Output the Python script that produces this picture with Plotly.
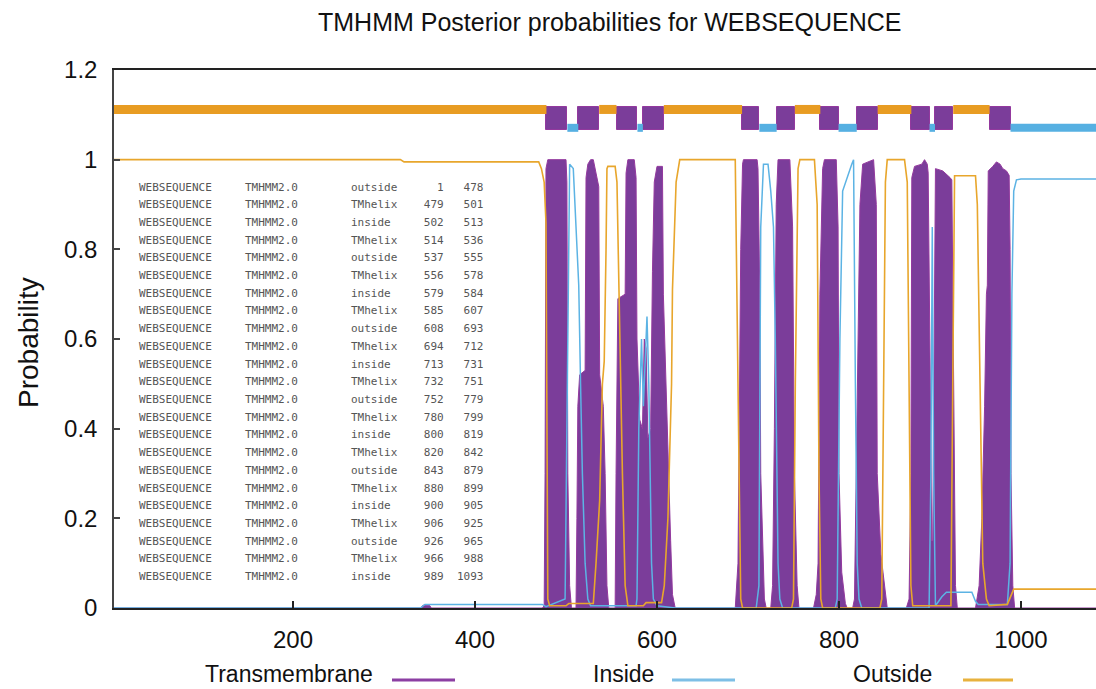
import plotly.graph_objects as go

# ---------------- data ----------------
seg_type = ["outside", "TMhelix", "inside", "TMhelix", "outside", "TMhelix", "inside", "TMhelix",
            "outside", "TMhelix", "inside", "TMhelix", "outside", "TMhelix", "inside", "TMhelix",
            "outside", "TMhelix", "inside", "TMhelix", "outside", "TMhelix", "inside"]
seg_start = [1, 479, 502, 514, 537, 556, 579, 585, 608, 694, 713, 732, 752, 780, 800, 820,
             843, 880, 900, 906, 926, 966, 989]
seg_end = [478, 501, 513, 536, 555, 578, 584, 607, 693, 712, 731, 751, 779, 799, 819, 842,
           879, 899, 905, 925, 965, 988, 1093]

# transmembrane posterior (vertices)
tm_pos = [1, 340, 343, 350, 352, 474, 476, 477, 478, 480, 500, 501, 502, 504, 506,
          511, 512, 513, 515, 521, 522, 524, 527, 530, 533, 536, 537, 541, 543, 545, 547,
          554, 555, 557, 565, 566, 568, 575, 577, 578, 581, 584, 586, 588, 590, 593, 595, 597,
          600, 606, 607, 609, 611, 613, 615, 617, 620,
          686, 689, 692, 694, 695, 710, 711, 713, 714, 716, 718, 720,
          725, 727, 729, 731, 733, 746, 749, 751, 754, 756,
          772, 775, 777, 779, 782, 784, 797, 799, 800, 803, 807, 809,
          815, 817, 820, 823, 826, 838, 841, 842, 846, 851, 853,
          874, 877, 879, 880, 883, 891, 894, 897, 898, 900, 902, 903, 905, 906, 914, 920, 922,
          924, 926, 928, 930,
          950, 954, 957, 960, 962, 963, 964, 969, 973, 977, 980, 984, 987, 988, 989, 991, 993, 1093]
tm_prob = [0, 0, 0.006, 0.006, 0, 0, 0.005, 0.3, 0.98, 1.0, 1.0, 0.95, 0.3, 0.05, 0,
           0, 0.2, 0.45, 0.52, 0.53, 0.96, 0.99, 1.0, 1.0, 0.97, 0.94, 0.52, 0.45, 0.3, 0.05, 0,
           0, 0.3, 0.69, 0.7, 0.97, 1.0, 1.0, 0.96, 0.6, 0.42, 0.4, 0.6, 0.58, 0.38, 0.4, 0.75, 0.95,
           0.985, 0.985, 0.7, 0.55, 0.4, 0.3, 0.15, 0.03, 0,
           0, 0.1, 0.8, 0.99, 1.0, 1.0, 0.98, 0.7, 0.3, 0.15, 0.02, 0,
           0, 0.05, 0.4, 0.9, 1.0, 1.0, 0.85, 0.3, 0.05, 0,
           0, 0.03, 0.1, 0.7, 0.98, 1.0, 1.0, 0.85, 0.3, 0.08, 0.01, 0,
           0, 0.02, 0.5, 0.9, 0.99, 1.0, 0.9, 0.3, 0.12, 0.03, 0,
           0, 0.02, 0.3, 0.96, 0.985, 0.99, 1.0, 0.99, 0.97, 0.6, 0.15, 0.15, 0.8, 0.98, 0.975, 0.965, 0.96,
           0.955, 0.4, 0.05, 0,
           0, 0.05, 0.2, 0.45, 0.7, 0.72, 0.975, 0.985, 0.995, 0.99, 0.98, 0.975, 0.965, 0.8, 0.3, 0.05, 0, 0]

# inside posterior
in_pos = [1, 340, 345, 474, 478, 499, 502, 504, 508, 511, 514, 516, 518, 521, 524, 527,
          577, 578, 580, 583, 585, 588, 589, 591, 592, 594, 596, 600, 620,
          709, 712, 714, 717, 722, 725, 728, 730, 733, 735, 738,
          796, 798, 801, 804, 814, 816, 818, 820, 822, 825,
          899, 901, 902.5, 904, 906, 913, 918, 946, 950, 953, 985, 988, 990, 992, 995, 1000, 1093]
in_prob = [0, 0, 0.008, 0.008, 0.003, 0.02, 0.6, 0.99, 0.98, 0.85, 0.72, 0.5, 0.3, 0.1, 0.02, 0.005,
           0.005, 0.02, 0.4, 0.6, 0.45, 0.6, 0.65, 0.5, 0.38, 0.1, 0.02, 0.005, 0,
           0, 0.05, 0.85, 0.99, 0.99, 0.93, 0.85, 0.6, 0.1, 0.02, 0,
           0, 0.02, 0.6, 0.93, 0.99, 1.0, 0.5, 0.1, 0.02, 0,
           0, 0.3, 0.85, 0.3, 0.005, 0.025, 0.035, 0.035, 0.015, 0.008, 0.008, 0.1, 0.7, 0.93, 0.955, 0.957, 0.957]

# outside posterior
out_pos = [1, 318, 322, 470, 473, 476, 478, 479, 480, 482, 500, 503, 530, 533, 537, 540, 542, 544,
           545, 546, 554, 556, 558, 560, 562, 565, 568, 585, 588, 605, 608, 612, 616, 617, 621, 625,
           686, 689, 692, 694, 748, 750, 752, 755, 757, 773, 776, 778, 780, 782,
           845, 847, 849, 851, 853, 872, 875, 877, 879, 881, 923, 925, 927,
           950, 952, 955, 958, 962, 965, 985, 990, 992, 1093]
out_prob = [1.0, 1.0, 0.995, 0.995, 0.98, 0.95, 0.86, 0.3, 0.02, 0.005, 0.005, 0.01, 0.01, 0.1, 0.24, 0.5, 0.55, 0.8,
            0.98, 0.985, 0.985, 0.95, 0.7, 0.5, 0.3, 0.05, 0.005, 0.005, 0.012, 0.012, 0.05, 0.2, 0.5, 0.71, 0.95, 1.0,
            1.0, 0.5, 0.02, 0, 0, 0.02, 0.5, 0.98, 1.0, 1.0, 0.9, 0.3, 0.02, 0,
            0, 0.02, 0.5, 0.95, 1.0, 1.0, 0.95, 0.5, 0.05, 0.005, 0.005, 0.5, 0.964,
            0.964, 0.9, 0.5, 0.1, 0.02, 0.005, 0.008, 0.035, 0.042, 0.042]

x_ticks = [200, 400, 600, 800, 1000]
y_ticks = [0, 0.2, 0.4, 0.6, 0.8, 1.0, 1.2]

# ---------------- style ----------------
PURPLE = "#7B3D9A"
PURPLE_EDGE = "#93399E"
BLUE = "#5CB3E4"
ORANGE = "#E8A62C"
BAR_ORANGE = "#E89C22"
BAR_BLUE = "#56B0E2"

W, H = 1096, 689
L, R, T, B = 114, 0, 70, 81
pw, ph = W - L - R, H - T - B


def px(xp):
    return (xp - L) / pw


def py(yp):
    return (H - B - yp) / ph


fig = go.Figure()

# transmembrane filled posterior
fig.add_trace(go.Scatter(x=tm_pos, y=tm_prob, mode="lines", fill="tozeroy",
                         fillcolor=PURPLE, line=dict(color=PURPLE_EDGE, width=1),
                         hoverinfo="skip", showlegend=False))
# inside / outside lines
fig.add_trace(go.Scatter(x=in_pos, y=in_prob, mode="lines",
                         line=dict(color=BLUE, width=1.5), hoverinfo="skip", showlegend=False))
fig.add_trace(go.Scatter(x=out_pos, y=out_prob, mode="lines",
                         line=dict(color=ORANGE, width=1.6), hoverinfo="skip", showlegend=False))

# top topology bar from the table
ox, oy, ix, iy = [], [], [], []
tmx, tmw = [], []
for t, s, e in zip(seg_type, seg_start, seg_end):
    if t == "outside":
        ox += [s - 0.5, e + 0.5, None]
        oy += [1.112, 1.112, None]
    elif t == "inside":
        ix += [s - 0.5, e + 0.5, None]
        iy += [1.071, 1.071, None]
    else:
        tmx.append((s + e) / 2)
        tmw.append(e - s + 1)

fig.add_trace(go.Scatter(x=ox, y=oy, mode="lines", line=dict(color=BAR_ORANGE, width=9),
                         hoverinfo="skip", showlegend=False))
fig.add_trace(go.Scatter(x=ix, y=iy, mode="lines", line=dict(color=BAR_BLUE, width=8),
                         hoverinfo="skip", showlegend=False))
fig.add_trace(go.Bar(x=tmx, width=tmw, y=[0.051] * len(tmx), base=[1.067] * len(tmx),
                     marker=dict(color=PURPLE, line=dict(color=PURPLE_EDGE, width=1)),
                     hoverinfo="skip", showlegend=False))

annotations = []
# table text
NB = "\u00a0"
for i, (t, s, e) in enumerate(zip(seg_type, seg_start, seg_end)):
    line = f"{'WEBSEQUENCE':<16}{'TMHMM2.0':<16}{t:<8}{s:>6}{e:>6}".replace(" ", NB)
    annotations.append(dict(x=px(137), y=0.939 - i * 0.0395, xref="paper", yref="y",
                            xanchor="left", yanchor="middle", text=line, showarrow=False,
                            font=dict(family="DejaVu Sans Mono", size=11, color="#555555")))

# title
annotations.append(dict(x=px(609), y=py(22), xref="paper", yref="paper",
                        text="TMHMM Posterior probabilities for WEBSEQUENCE",
                        showarrow=False, xanchor="center", yanchor="middle",
                        font=dict(family="Liberation Sans", size=25, color="#111")))
# y title
annotations.append(dict(x=px(28), y=py(343), xref="paper", yref="paper", text="Probability",
                        showarrow=False, textangle=-90, xanchor="center", yanchor="middle",
                        font=dict(family="Liberation Sans", size=28, color="#111")))

# bottom legend (text then line sample)
legend_items = [("Transmembrane", 289, 392, 455, "#8C3FA3"),
                ("Inside", 623, 672, 735, "#7EBFE6"),
                ("Outside", 892, 963, 1013, "#E8B23E")]
shapes = []
for name, cx, x0, x1, col in legend_items:
    annotations.append(dict(x=px(cx), y=py(674), xref="paper", yref="paper", text=name,
                            showarrow=False, xanchor="center", yanchor="middle",
                            font=dict(family="Liberation Sans", size=23, color="#111")))
    shapes.append(dict(type="line", xref="paper", yref="paper", x0=px(x0), x1=px(x1),
                       y0=py(680), y1=py(680), line=dict(color=col, width=3)))

fig.update_layout(
    width=W, height=H, autosize=False,
    margin=dict(l=L, r=R, t=T, b=B, pad=0),
    paper_bgcolor="white", plot_bgcolor="white",
    annotations=annotations, shapes=shapes,
    showlegend=False, bargap=0,
    xaxis=dict(range=[3.3, 3.3 + pw / 0.91], tickvals=x_ticks, ticks="inside", ticklen=7,
               tickwidth=1.5, tickcolor="#222", showline=True, linecolor="#222", linewidth=1.5,
               mirror=True, showgrid=False, zeroline=False, ticklabelstandoff=9,
               tickfont=dict(family="Liberation Sans", size=24, color="#111")),
    yaxis=dict(range=[0, 1.2], tickvals=y_ticks, ticks="inside", ticklen=6,
               tickwidth=1.5, tickcolor="#444", showline=True, linecolor="#444", linewidth=1.5,
               showgrid=False, zeroline=False, ticklabelstandoff=10,
               tickfont=dict(family="Liberation Sans", size=24, color="#111")),
)

fig.write_html("out.html", config={"displayModeBar": False},
               post_script="document.body.style.margin='0';document.body.style.overflow='hidden';")
